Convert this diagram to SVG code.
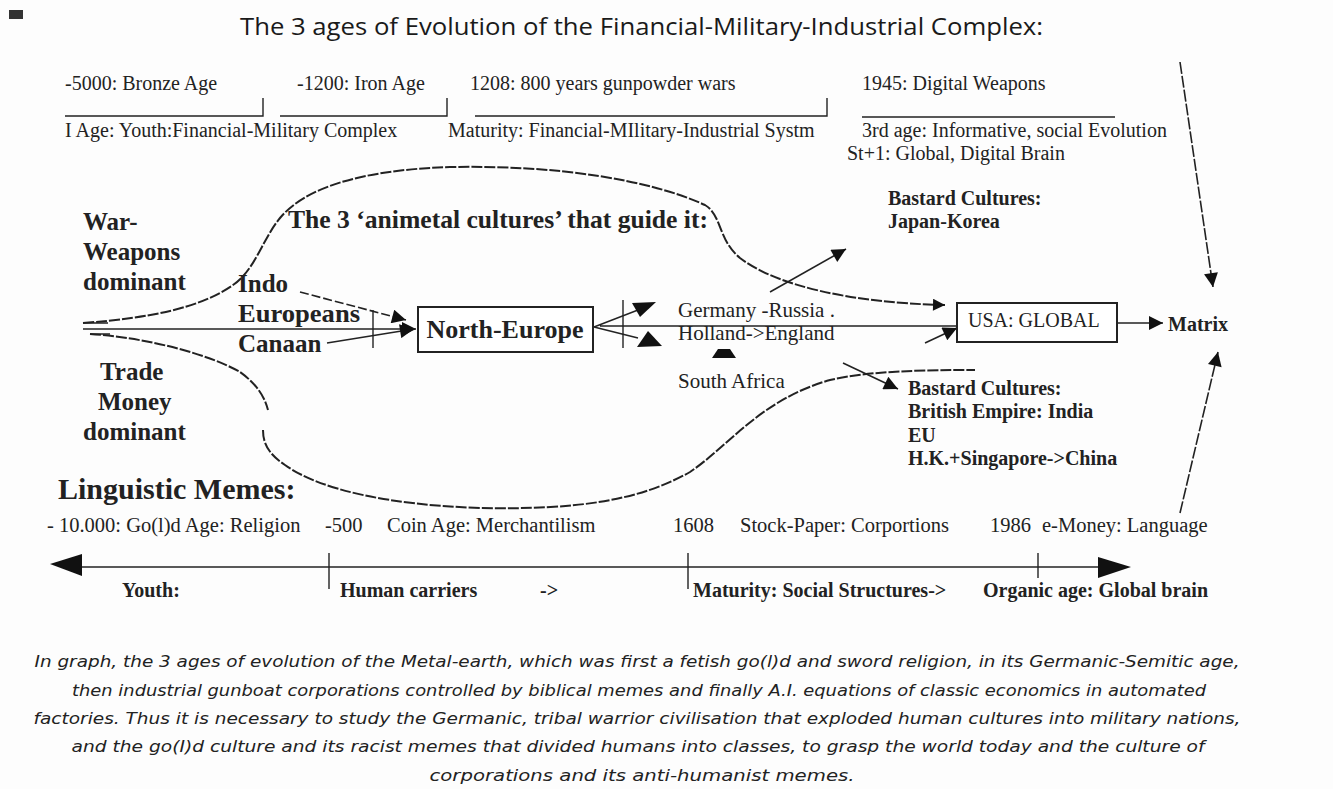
<svg xmlns="http://www.w3.org/2000/svg" width="1333" height="789" viewBox="0 0 1333 789">
<defs>
<marker id="ah" viewBox="0 0 10 10" refX="10" refY="5" markerWidth="18" markerHeight="14" markerUnits="userSpaceOnUse" orient="auto">
<path d="M0,0 L10,5 L0,10 z" fill="#111"/>
</marker>
<marker id="ahs" viewBox="0 0 10 10" refX="10" refY="5" markerWidth="16" markerHeight="12" markerUnits="userSpaceOnUse" orient="auto">
<path d="M0,0 L10,5 L0,10 z" fill="#111"/>
</marker>
</defs>
<style>
.t{font-family:"Liberation Serif","Times New Roman",serif;fill:#222}
.r{font-size:20px}
.b{font-weight:bold}
.big{font-size:25px;font-weight:bold}
.cap{font-family:"DejaVu Sans",Verdana,sans-serif;font-style:italic;font-size:15px;fill:#222}
.ln{stroke:#222;stroke-width:1.4;fill:none}
.cv{stroke:#222;stroke-width:2;fill:none;stroke-dasharray:11 2}
.ar{stroke:#222;stroke-width:1.6;fill:none;marker-end:url(#ah)}
.box{fill:#fff;stroke:#222;stroke-width:2}
</style>
<rect width="1333" height="789" fill="#fdfdfd"/>
<rect x="9" y="10" width="14" height="9" fill="#333"/>
<text x="240" y="35" font-family="'Open Sans','Liberation Sans',sans-serif" font-size="24" fill="#1a1a1a" textLength="803" lengthAdjust="spacingAndGlyphs">The 3 ages of Evolution of the Financial-Military-Industrial Complex:</text>

<g id="ages">
<text class="t r" x="65" y="90">-5000: Bronze Age</text>
<text class="t r" x="297" y="90">-1200: Iron Age</text>
<text class="t r" x="470" y="90">1208: 800 years gunpowder wars</text>
<text class="t r" x="862" y="90">1945: Digital Weapons</text>
<path class="ln" d="M65,116 H263 V98 M280,116 H447 V98 M475,116 H827 V98 M862,117 H1115"/>
<text class="t r" x="65" y="137">I Age: Youth:Financial-Military Complex</text>
<text class="t r" x="448" y="137">Maturity: Financial-MIlitary-Industrial Systm</text>
<text class="t r" x="862" y="137">3rd age: Informative, social Evolution</text>
<text class="t r" x="847" y="160">St+1: Global, Digital Brain</text>
</g>

<g id="connectors">
<path class="cv" d="M83,323 C150,318 200,308 233,285 C255,270 262,240 280,218 C305,188 360,170 450,167 C560,165 650,180 705,205 C722,215 718,240 740,258 C775,285 850,303 945,305" marker-end="url(#ahs)"/>
<path class="cv" d="M90,334 C150,338 210,355 240,372 C258,385 265,398 268,410"/>
<path class="cv" d="M263,430 C263,445 270,455 285,465 C320,490 390,505 480,508 C580,510 640,500 690,472 C730,445 760,400 830,380 C870,371 920,370 975,370"/>
<path class="ar" d="M83,329 H416"/>
<path class="ln" d="M83,323 H108 M90,334 H110"/>
<path class="ar" d="M300,292 L406,320" stroke-dasharray="9 3"/>
<path class="ar" d="M327,343 L414,329"/>
<path class="ln" d="M373,310 V348"/>
<path class="ln" d="M594,327 L638,310 M594,327 L638,338 M600,326 H957"/>
<path class="ln" d="M623,300 V348" stroke-width="1.8"/>
<polygon points="632,303 656,302 640,317" fill="#111"/>
<polygon points="637,347 648,331 662,346" fill="#111"/>
<polygon points="718,349 730,349 736,358 712,358" fill="#111"/>
<path class="ar" d="M770,292 L846,249"/>
<path class="ar" d="M843,363 L898,389"/>
<path class="ar" d="M925,343 L957,328"/>
<path class="ar" d="M1117,323 H1163"/>
<path class="ar" d="M1180,62 L1213,287" stroke-dasharray="12 2"/>
<path class="ar" d="M1180,513 L1218,352" stroke-dasharray="12 2"/>
</g>

<g id="left-labels">
<text class="t big" x="83" y="230">War-</text>
<text class="t big" x="83" y="260">Weapons</text>
<text class="t big" x="83" y="290">dominant</text>
<text class="t big" x="100" y="380">Trade</text>
<text class="t big" x="98" y="410">Money</text>
<text class="t big" x="83" y="440">dominant</text>
</g>

<g id="origins">
<text class="t big" x="238" y="292">Indo</text>
<text class="t big" x="238" y="322" textLength="122" lengthAdjust="spacingAndGlyphs">Europeans</text>
<text class="t big" x="238" y="352">Canaan</text>
</g>

<text class="t big" x="288" y="228" textLength="420" lengthAdjust="spacingAndGlyphs">The 3 ‘animetal cultures’ that guide it:</text>

<g id="north-europe">
<rect class="box" x="418" y="307" width="175" height="45"/>
<text class="t b" x="505" y="338" font-size="26" text-anchor="middle">North-Europe</text>
</g>

<g id="europe-branches">
<text class="t" x="678" y="317" font-size="21">Germany -Russia .</text>
<text class="t" x="678" y="340" font-size="21">Holland-&gt;England</text>
<text class="t" x="678" y="388" font-size="21">South Africa</text>
</g>

<g id="bastard-east">
<text class="t b r" x="888" y="205">Bastard Cultures:</text>
<text class="t b r" x="888" y="228">Japan-Korea</text>
</g>

<g id="usa">
<rect class="box" x="957" y="303" width="160" height="39"/>
<text class="t r" x="968" y="327">USA: GLOBAL</text>
</g>

<g id="matrix">
<text class="t b r" x="1168" y="331">Matrix</text>
</g>

<g id="bastard-west">
<text class="t b r" x="908" y="395">Bastard Cultures:</text>
<text class="t b r" x="908" y="418">British Empire: India</text>
<text class="t b r" x="908" y="442">EU</text>
<text class="t b r" x="908" y="465">H.K.+Singapore-&gt;China</text>
</g>

<g id="memes">
<text class="t b" x="58" y="499" font-size="30">Linguistic Memes:</text>
<text class="t" x="47" y="532" font-size="20.5">- 10.000: Go(l)d Age: Religion</text>
<text class="t" x="325" y="532" font-size="20.5">-500</text>
<text class="t" x="387" y="532" font-size="20.5">Coin Age: Merchantilism</text>
<text class="t" x="673" y="532" font-size="20.5">1608</text>
<text class="t" x="740" y="532" font-size="20.5">Stock-Paper: Corportions</text>
<text class="t" x="990" y="532" font-size="20.5">1986</text>
<text class="t" x="1042" y="532" font-size="20.5">e-Money: Language</text>
</g>

<g id="timeline">
<path class="ln" d="M80,567 H1100" stroke-width="1.8"/>
<polygon points="50,564 82,554 82,576" fill="#111"/>
<polygon points="1131,567 1098,557 1098,578" fill="#111"/>
<path class="ln" d="M329,553 V589 M688,553 V589" stroke-width="3.5"/>
<path class="ln" d="M1038,553 V578"/>
<text class="t b" x="122" y="597" font-size="20">Youth:</text>
<text class="t b" x="340" y="597" font-size="20">Human carriers</text>
<text class="t b" x="540" y="597" font-size="20">-&gt;</text>
<text class="t b" x="693" y="597" font-size="20">Maturity: Social Structures-&gt;</text>
<text class="t b" x="983" y="597" font-size="20">Organic age: Global brain</text>
</g>

<g id="caption">
<text class="cap" x="637" y="667" text-anchor="middle" textLength="1205" lengthAdjust="spacingAndGlyphs">In graph, the 3 ages of evolution of the Metal-earth, which was first a fetish go(l)d and sword religion, in its Germanic-Semitic age,</text>
<text class="cap" x="639" y="696" text-anchor="middle" textLength="1134" lengthAdjust="spacingAndGlyphs">then industrial gunboat corporations controlled by biblical memes and finally A.I. equations of classic economics in automated</text>
<text class="cap" x="637" y="724" text-anchor="middle" textLength="1207" lengthAdjust="spacingAndGlyphs">factories. Thus it is necessary to study the Germanic, tribal warrior civilisation that exploded human cultures into military nations,</text>
<text class="cap" x="638" y="752" text-anchor="middle" textLength="1133" lengthAdjust="spacingAndGlyphs">and the go(I)d culture and its racist memes that divided humans into classes, to grasp the world today and the culture of</text>
<text class="cap" x="642" y="781" text-anchor="middle" textLength="425" lengthAdjust="spacingAndGlyphs">corporations and its anti-humanist memes.</text>
</g>
</svg>
